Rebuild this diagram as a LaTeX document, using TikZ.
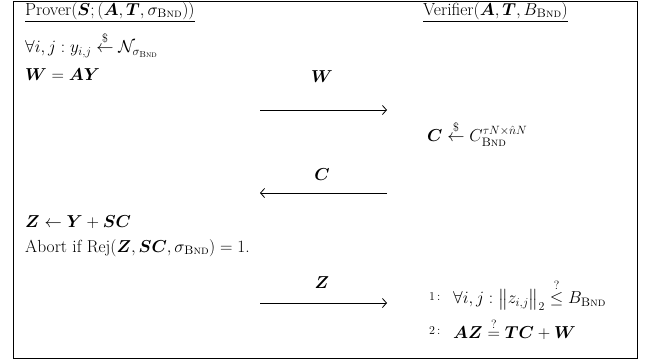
\documentclass[tikz,border=0pt]{standalone}
\usepackage{amsmath,amssymb,bm}
\usetikzlibrary{arrows.meta}
\newcommand{\bnd}{\textsc{Bnd}}
\begin{document}
\begin{tikzpicture}[x=1pt,y=-1pt,
  every node/.style={font=\fontsize{17.5}{20}\selectfont, inner sep=0pt},
  lbl/.style={anchor=west},
  num/.style={anchor=west, font=\fontsize{12}{14}\selectfont},
  msg/.style={anchor=center},
  uline/.style={line width=0.8pt},
  flow/.style={-{Straight Barb[length=4pt,width=9pt,line width=0.8pt]}, line width=0.8pt}]
\useasboundingbox (0,0) rectangle (647,362);
\draw[line width=0.9pt] (13,1) rectangle (637,358);
% headers
\node[lbl] (ph) at (25,11) {Prover$(\bm S;(\bm A,\bm T,\sigma_{\bnd}))$};
\node[lbl] (vh) at (423,11) {Verifier$(\bm A,\bm T,B_{\bnd})$};
\draw[uline] ([yshift=-2pt]ph.south west) -- ([yshift=-2pt]ph.south east);
\draw[uline] ([yshift=-2pt]vh.south west) -- ([yshift=-2pt]vh.south east);
% prover steps
\node[lbl] (p1) at (25,45) {$\forall i,j: y_{i,j}\stackrel{\$}{\leftarrow}\mathcal{N}_{\sigma_{\bnd}}$};
\node[lbl] (p2) at (25,75) {$\bm W=\bm A\bm Y$};
\node[lbl] (p3) at (25,222) {$\bm Z\leftarrow \bm Y+\bm S\bm C$};
\node[lbl] (p4) at (25,248) {Abort if $\mathrm{Rej}(\bm Z,\bm S\bm C,\sigma_{\bnd})=1$.};
% verifier steps
\node[lbl] (v1) at (427,134) {$\bm C\stackrel{\$}{\leftarrow}C_{\bnd}^{\tau N\times\hat n N}$};
\node[num] (n1) at (429,297) {1\,:};
\node[lbl] (v2) at (453,295) {$\forall i,j:\bigl\|z_{i,j}\bigr\|_2\stackrel{?}{\le}B_{\bnd}$};
\node[num] (n2) at (429,331) {2\,:};
\node[lbl] (v3) at (453,329) {$\bm A\bm Z\stackrel{?}{=}\bm T\bm C+\bm W$};
% messages
\coordinate (a1l) at (260,110); \coordinate (a1r) at (387,110);
\coordinate (a2l) at (260,193); \coordinate (a2r) at (387,193);
\coordinate (a3l) at (260,303); \coordinate (a3r) at (387,303);
\node[msg] (mW) at (322,77) {$\bm W$};
\node[msg] (mC) at (322,175) {$\bm C$};
\node[msg] (mZ) at (322,283) {$\bm Z$};
\draw[flow] (a1l) -- (a1r);
\draw[flow] (a2r) -- (a2l);
\draw[flow] (a3l) -- (a3r);
\end{tikzpicture}
\end{document}
